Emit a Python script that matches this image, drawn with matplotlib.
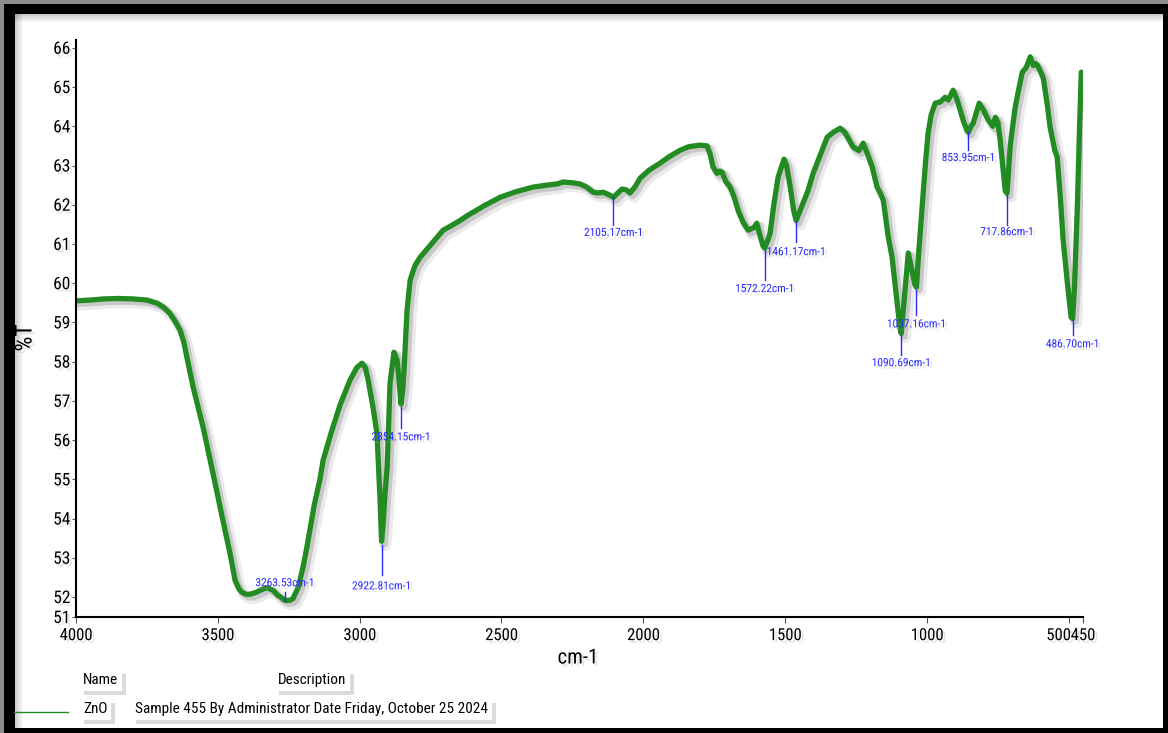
import matplotlib
matplotlib.use("Agg")
import matplotlib.pyplot as plt
import matplotlib.patheffects as pe
from matplotlib.patches import Rectangle
from matplotlib.transforms import ScaledTranslation

# ZnO FTIR spectrum, %T against wavenumber
wavenumber = [
    4000, 3950, 3900, 3850, 3800, 3785, 3750, 3714, 3690, 3669, 3650, 3633,
    3620, 3609, 3587, 3552, 3517, 3482, 3457, 3439, 3425, 3415, 3400, 3386,
    3365, 3351, 3327, 3305, 3290, 3281, 3265, 3256, 3245, 3235, 3217, 3200,
    3186, 3160, 3140, 3129, 3100, 3069, 3034, 3010, 2992, 2980, 2970, 2953,
    2939, 2928, 2922.81, 2918, 2910, 2903, 2893, 2879, 2868, 2862, 2854.15,
    2848, 2843, 2833, 2822, 2805, 2787, 2741, 2706, 2681, 2650, 2621, 2560,
    2505, 2450, 2389, 2340, 2304, 2283, 2250, 2223, 2200, 2177, 2160, 2142,
    2120, 2105.17, 2090, 2075, 2060, 2047, 2030, 2011, 1980, 1941, 1910, 1870,
    1840, 1800, 1775, 1765, 1754, 1740, 1730, 1722, 1710, 1694, 1680, 1666,
    1648, 1630, 1610, 1600, 1590, 1578, 1572.22, 1560, 1553, 1540, 1525, 1504,
    1495, 1482, 1470, 1461.17, 1450, 1437, 1420, 1401, 1380, 1352, 1330, 1306,
    1290, 1260, 1240, 1225, 1210, 1193, 1176, 1165, 1154, 1137, 1123, 1110,
    1095, 1090.69, 1080, 1066, 1055, 1042, 1037.16, 1030, 1017, 1005, 996, 985,
    971, 953, 936, 925, 908, 895, 883, 870, 858, 853.95, 845, 837, 816, 800,
    784, 768, 759, 750, 742, 730, 724, 717.86, 712, 707, 698, 689, 675, 664,
    650, 636, 625, 617, 611, 600, 590, 575, 566, 550, 541, 530, 520, 505, 492,
    486.70, 480, 470, 462, 456,
]
transmittance = [
    59.55, 59.57, 59.60, 59.61, 59.60, 59.59, 59.57, 59.49, 59.38, 59.23, 59.02, 58.80,
    58.50, 58.11, 57.35, 56.33, 55.15, 53.95, 53.11, 52.42, 52.20, 52.12, 52.07, 52.07,
    52.12, 52.17, 52.24, 52.17, 52.05, 52.01, 51.92, 51.91, 51.92, 51.96, 52.24, 52.75,
    53.27, 54.35, 55.00, 55.48, 56.20, 56.90, 57.53, 57.85, 57.96, 57.85, 57.53, 56.84,
    56.17, 54.46, 53.42, 53.80, 54.70, 55.31, 57.45, 58.24, 58.04, 57.60, 56.92,
    57.30, 57.86, 59.31, 60.08, 60.45, 60.66, 61.05, 61.35, 61.45, 61.58, 61.72, 61.98,
    62.19, 62.33, 62.45, 62.50, 62.53, 62.58, 62.56, 62.53, 62.45, 62.32, 62.30, 62.32,
    62.25, 62.19, 62.30, 62.40, 62.38, 62.30, 62.45, 62.68, 62.88, 63.06, 63.22, 63.39,
    63.48, 63.52, 63.50, 63.30, 62.96, 62.80, 62.86, 62.83, 62.60, 62.45, 62.20, 61.86,
    61.55, 61.35, 61.42, 61.53, 61.25, 60.95, 60.90, 61.12, 61.28, 62.00, 62.70, 63.16,
    63.00, 62.45, 61.85, 61.60, 61.80, 62.04, 62.35, 62.81, 63.20, 63.72, 63.85, 63.95,
    63.85, 63.47, 63.38, 63.57, 63.30, 62.96, 62.45, 62.30, 62.12, 61.20, 60.66, 59.80,
    58.85, 58.72, 59.60, 60.77, 60.40, 59.95, 59.90, 60.70, 61.94, 63.10, 63.83, 64.30,
    64.59, 64.62, 64.74, 64.67, 64.92, 64.70, 64.41, 64.10, 63.88, 63.85, 64.00, 64.08,
    64.59, 64.40, 64.16, 64.00, 64.23, 64.10, 63.65, 62.80, 62.35, 62.30, 62.90, 63.47,
    64.00, 64.49, 65.00, 65.38, 65.50, 65.77, 65.55, 65.60, 65.56, 65.40, 65.23, 64.50,
    63.98, 63.40, 63.21, 62.20, 61.10, 60.00, 59.13, 59.10, 59.90, 61.94, 64.00, 65.38,
]

# picked peaks
peak_wn = [3263.53, 2922.81, 2854.15, 2105.17, 1572.22, 1461.17,
           1090.69, 1037.16, 853.95, 717.86, 486.70]
# marker line (top, bottom) and label height for each peak, in %T
peak_line = [(52.12, 51.91), (53.32, 52.55), (56.84, 56.30), (62.19, 61.48),
             (60.84, 60.08), (61.56, 61.05), (58.67, 58.16), (59.82, 59.18),
             (63.85, 63.39), (62.24, 61.48), (59.06, 58.67)]
peak_text_y = [52.35, 52.27, 56.07, 61.28, 59.85, 60.79, 57.96, 58.95,
               63.19, 61.30, 58.44]

x_ticks = [4000, 3500, 3000, 2500, 2000, 1500, 1000, 500, 450]
y_ticks = [51.49] + list(range(52, 67))
y_labels = ["51"] + [str(v) for v in range(52, 67)]

FONT = ["Roboto Condensed", "Archivo Narrow", "DejaVu Sans"]
GREEN = "#228b22"
BLUE = "#2a2aff"
plt.rcParams["font.family"] = FONT

W, H = 1168, 733
fig = plt.figure(figsize=(W / 100, H / 100), dpi=100)
fig.patch.set_facecolor("#8c8c8c")

# black frame with white panel inside
fig.patches.append(Rectangle((4 / W, 0), 1164 / W, 729 / H, transform=fig.transFigure,
                             facecolor="black", edgecolor="none", zorder=-10))
fig.patches.append(Rectangle((15 / W, 5 / H), 1148 / W, 714 / H, transform=fig.transFigure,
                             facecolor="white", edgecolor="none", zorder=-9))
for i in range(8):
    a = 0.2 * (1 - i / 8)
    fig.patches.append(Rectangle((15 / W, (719 - i - 1) / H), 1148 / W, 1 / H,
                                 transform=fig.transFigure, facecolor="black",
                                 alpha=a, edgecolor="none", zorder=-8))
    fig.patches.append(Rectangle(((15 + i) / W, 5 / H), 1 / W, 714 / H,
                                 transform=fig.transFigure, facecolor="black",
                                 alpha=a, edgecolor="none", zorder=-8))

txt_shadow = [pe.withSimplePatchShadow(offset=(2, -2), shadow_rgbFace="#aaaaaa", alpha=0.3)]

ax = fig.add_axes([76 / W, 1 - 617 / H, 1007 / W, 577 / H])
ax.patch.set_alpha(0)
ax.plot(wavenumber, transmittance, color=GREEN, lw=3.8, solid_joinstyle="round",
        solid_capstyle="round",
        path_effects=[pe.SimpleLineShadow(offset=(3, -3), shadow_color="black", alpha=0.08, linewidth=8),
                      pe.SimpleLineShadow(offset=(2, -2), shadow_color="black", alpha=0.15, linewidth=5),
                      pe.Normal()])

for wn, (y0, y1), ty in zip(peak_wn, peak_line, peak_text_y):
    ax.plot([wn, wn], [y0, y1], color=BLUE, lw=1)
    ax.text(wn, ty, f"{wn:.2f}cm-1", color=BLUE, fontsize=8.2, ha="center", va="center",
            path_effects=txt_shadow)

ax.set_xlim(4000, 450)
ax.set_ylim(51.49, 66.2)
ax.spines[["top", "right"]].set_visible(False)
for s in ("left", "bottom"):
    ax.spines[s].set_linewidth(1.5)
    ax.spines[s].set_path_effects([pe.withSimplePatchShadow(offset=(2, -2), shadow_rgbFace="#aaaaaa", alpha=0.35)])

ax.set_xticks(x_ticks)
ax.set_xticklabels([str(v) for v in x_ticks])
ax.set_yticks(y_ticks)
ax.set_yticklabels(y_labels)
ax.tick_params(axis="x", length=4, pad=4, labelsize=12, color="#555555")
ax.tick_params(axis="y", length=3, pad=1, labelsize=12.5, color="#555555")
for lab in ax.get_xticklabels():
    lab.set_path_effects(txt_shadow)
    if lab.get_text() == "500":
        # butt "500" against the "450" end label
        lab.set_horizontalalignment("right")
        lab.set_transform(lab.get_transform() + ScaledTranslation(2 / 100, 0, fig.dpi_scale_trans))
for lab in ax.get_yticklabels():
    lab.set_path_effects(txt_shadow)

fig.text(578 / W, 1 - 658 / H, "cm-1", fontsize=15, ha="center", va="center",
         path_effects=txt_shadow)
fig.text(25 / W, 1 - 338 / H, "%T", fontsize=17, rotation=90, ha="center", va="center",
         path_effects=txt_shadow)

# legend block
box = dict(facecolor="white", edgecolor="none", pad=2.5)
legend_items = [
    (83, 680, "Name"), (278, 680, "Description"),
    (83, 709, "ZnO"), (135, 709, "Sample 455 By Administrator Date Friday, October 25 2024"),
]
for px, py, s in legend_items:
    t = fig.text(px / W, 1 - py / H, s, fontsize=11, ha="left", va="center", bbox=box)
    t.get_bbox_patch().set_path_effects(
        [pe.withSimplePatchShadow(offset=(3, -3), shadow_rgbFace="#888888", alpha=0.3)])
fig.add_artist(plt.Line2D([14 / W, 68 / W], [1 - 712 / H, 1 - 712 / H],
                          transform=fig.transFigure, color=GREEN, lw=1))

fig.savefig("out.png", dpi=100)
